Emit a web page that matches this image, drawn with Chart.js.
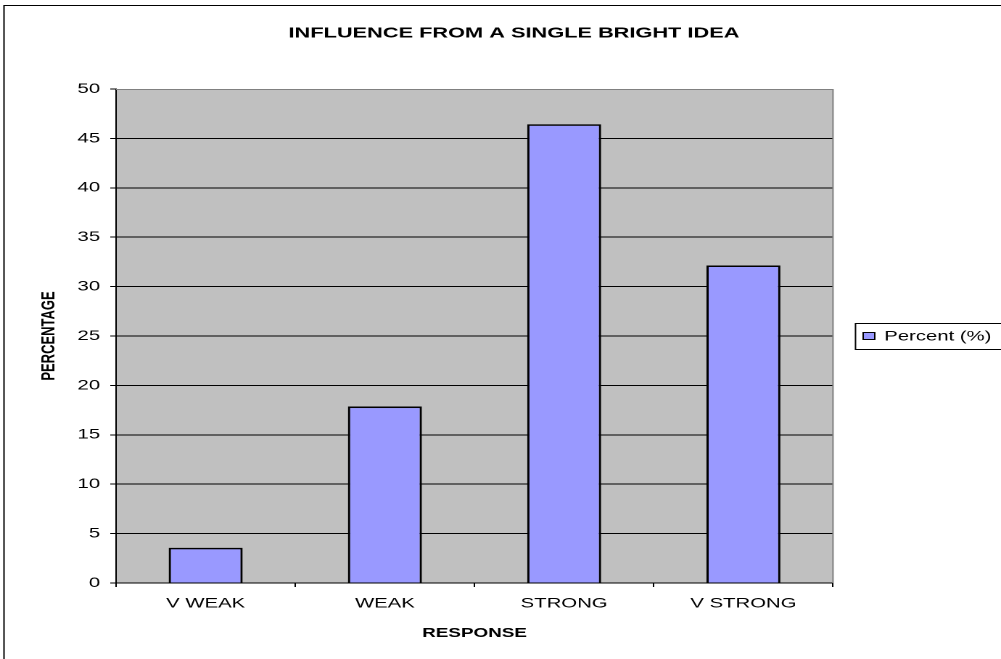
<!DOCTYPE html>
<html><head><meta charset="utf-8">
<script src="https://cdn.jsdelivr.net/npm/chart.js@4/dist/chart.umd.min.js"></script>
<style>
html,body{margin:0;padding:0;background:#fff;overflow:hidden;width:1001px;height:659px;}
#wrap{position:absolute;left:0;top:0;width:690px;height:659px;transform:scaleX(1.4507);transform-origin:0 0;}
canvas{display:block;}
</style></head><body>
<div id="wrap"><canvas id="c" width="690" height="659"></canvas></div>
<script>
const TITLE = 'INFLUENCE FROM A SINGLE BRIGHT IDEA';
const categories = ['V WEAK', 'WEAK', 'STRONG', 'V STRONG'];
const seriesLabel = 'Percent (%)';
const percentValues = [3.57, 17.86, 46.43, 32.14];
const yTickValues = [0, 5, 10, 15, 20, 25, 30, 35, 40, 45, 50];
const xAxisTitle = 'RESPONSE';
const yAxisTitle = 'PERCENTAGE';

const S = 1001 / 690;
const FONT = '"Liberation Sans", Arial, sans-serif';
const BAR = '#9999FF';

const decor = {
  id: 'decor',
  beforeDraw(chart) {
    const {ctx, chartArea: a} = chart;
    ctx.save();
    ctx.fillStyle = '#fff';
    ctx.fillRect(0, 0, chart.width, chart.height);
    ctx.fillStyle = '#C0C0C0';
    ctx.fillRect(a.left, a.top, a.right - a.left, a.bottom - a.top);
    ctx.strokeStyle = '#000';
    ctx.lineWidth = 1;
    ctx.strokeRect(4 / S, 5.5, chart.width + 20, chart.height + 20);
    ctx.restore();
  },
  beforeDatasetsDraw(chart) {
    const {ctx, chartArea: a} = chart;
    ctx.save();
    ctx.strokeStyle = '#808080';
    ctx.lineWidth = 1;
    ctx.beginPath();
    ctx.moveTo(a.left, a.top + 0.5);
    ctx.lineTo(a.right, a.top + 0.5);
    ctx.lineTo(a.right, a.bottom);
    ctx.stroke();
    ctx.restore();
  },
  afterDraw(chart) {
    const {ctx} = chart;
    ctx.save();
    // title
    ctx.fillStyle = '#000';
    ctx.font = 'bold 15px ' + FONT;
    ctx.textAlign = 'center';
    ctx.textBaseline = 'middle';
    ctx.fillText(TITLE, 354.3, 33.5);
    // legend
    const ds = chart.data.datasets[0];
    ctx.strokeStyle = '#000';
    ctx.lineWidth = 1;
    ctx.strokeRect(589.7, 323.5, 130, 26);
    ctx.fillStyle = ds.backgroundColor;
    ctx.fillRect(595, 332.5, 8, 7);
    ctx.strokeRect(595, 332.5, 8, 7);
    ctx.fillStyle = '#000';
    ctx.font = '14px ' + FONT;
    ctx.textAlign = 'left';
    ctx.fillText(ds.label, 609.5, 336.5);
    ctx.restore();
  }
};

new Chart(document.getElementById('c'), {
  type: 'bar',
  data: {
    labels: categories,
    datasets: [{
      label: seriesLabel,
      data: percentValues,
      backgroundColor: BAR,
      borderColor: '#000',
      borderWidth: 1.6,
      barPercentage: 0.413,
      categoryPercentage: 1.0
    }]
  },
  options: {
    responsive: false,
    animation: false,
    devicePixelRatio: 2,
    layout: {padding: {left: 0, top: 89, right: 115.8, bottom: 0}},
    plugins: {
      legend: {display: false},
      title: {display: false},
      tooltip: {enabled: false}
    },
    scales: {
      x: {
        offset: true,
        grid: {display: true, drawOnChartArea: false, drawTicks: true, tickLength: 4, color: '#000', offset: true},
        border: {display: true, color: '#000', width: 1},
        ticks: {color: '#000', font: {family: FONT, size: 14}, padding: 8, maxRotation: 0},
        title: {display: true, text: xAxisTitle, color: '#000', font: {family: FONT, size: 13, weight: 'bold'}, padding: {top: 0, bottom: 17.7}},
        afterFit(scale) { scale.height = 76; }
      },
      y: {
        min: 0, max: 50,
        afterBuildTicks(scale) { scale.ticks = yTickValues.map(v => ({value: v})); },
        grid: {
          color: ctx => (ctx.tick && ctx.tick.value === 50) ? 'rgba(0,0,0,0)' : '#000',
          tickColor: '#000',
          lineWidth: 1,
          drawTicks: true,
          tickLength: 4
        },
        border: {display: true, color: '#000', width: 1},
        ticks: {color: '#000', font: {family: FONT, size: 14}, padding: 7},
        title: {display: true, text: yAxisTitle, color: '#000', font: {family: FONT, size: 13, weight: 'bold'}, padding: {top: 26, bottom: 0}},
        afterFit(scale) { scale.width = 80; }
      }
    }
  },
  plugins: [decor]
});
</script>
</body></html>
